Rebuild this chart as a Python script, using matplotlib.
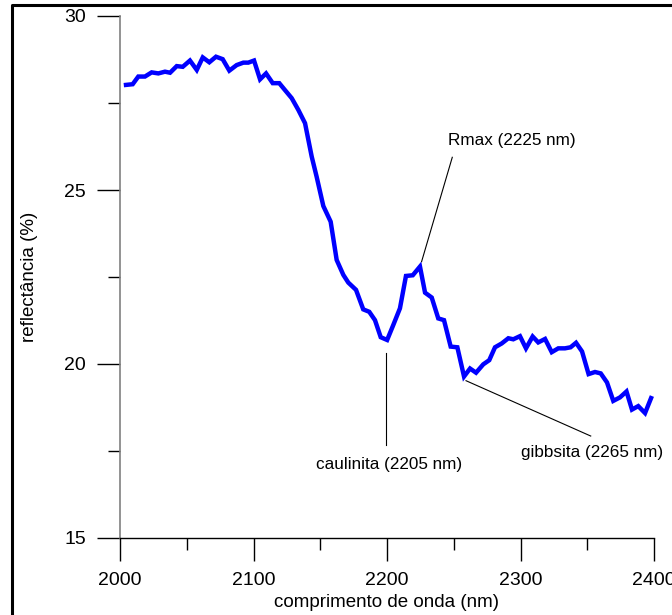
import matplotlib
matplotlib.use("Agg")
import matplotlib.pyplot as plt
from matplotlib.lines import Line2D
from matplotlib.ticker import MultipleLocator

plt.rcParams['font.family'] = ['Liberation Sans', 'DejaVu Sans']

wavelength = [2004.5, 2009.5, 2013.7, 2018.7, 2023.7, 2028.7, 2033.7, 2037.5, 2042.5, 2047.0,
              2052.4, 2057.5, 2062.0, 2066.9, 2071.9, 2076.9, 2081.9, 2087.4, 2092.4, 2096.1,
              2100.4, 2104.9, 2109.4, 2114.4, 2119.3, 2123.6, 2128.6, 2133.6, 2138.6, 2143.6,
              2147.3, 2152.3, 2157.8, 2162.3, 2167.3, 2171.0, 2176.8, 2182.2, 2186.7, 2191.0,
              2195.3, 2200.1, 2204.7, 2209.7, 2214.2, 2219.3, 2224.7, 2228.5, 2233.5, 2238.4,
              2242.7, 2247.7, 2252.7, 2257.7, 2262.2, 2266.7, 2272.1, 2276.6, 2280.9, 2285.9,
              2290.9, 2294.6, 2299.6, 2304.1, 2309.1, 2313.3, 2318.4, 2323.4, 2328.3, 2333.3,
              2337.5, 2341.6, 2346.1, 2351.0, 2355.8, 2360.1, 2364.8, 2369.5, 2374.5, 2379.4,
              2383.5, 2388.2, 2393.3, 2397.8]
reflectance = [28.02, 28.04, 28.26, 28.26, 28.38, 28.35, 28.40, 28.37, 28.56, 28.54,
               28.72, 28.45, 28.81, 28.67, 28.83, 28.76, 28.43, 28.59, 28.66, 28.66,
               28.72, 28.18, 28.35, 28.07, 28.07, 27.87, 27.64, 27.30, 26.92, 25.96,
               25.38, 24.54, 24.09, 22.99, 22.56, 22.34, 22.13, 21.57, 21.50, 21.26,
               20.77, 20.69, 21.12, 21.60, 22.53, 22.55, 22.80, 22.05, 21.91, 21.31,
               21.26, 20.50, 20.48, 19.64, 19.87, 19.75, 19.99, 20.11, 20.48, 20.59,
               20.74, 20.71, 20.80, 20.45, 20.79, 20.62, 20.72, 20.34, 20.45, 20.45,
               20.48, 20.61, 20.36, 19.71, 19.77, 19.73, 19.47, 18.94, 19.04, 19.21,
               18.69, 18.79, 18.59, 19.02]

x_ticks = [2000, 2100, 2200, 2300, 2400]
y_ticks = [15, 20, 25, 30]
x_label = "comprimento de onda (nm)"
y_label = "reflectância (%)"
labels = ["Rmax (2225 nm)", "caulinita (2205 nm)", "gibbsita (2265 nm)"]

W, H = 672, 615
fig = plt.figure(figsize=(W / 100, H / 100), dpi=100)
ax = fig.add_axes([120 / W, 1 - 538 / H, (654 - 120) / W, (538 - 16) / H])

ax.plot(wavelength, reflectance, color='#0000ff', lw=3.2, solid_joinstyle='miter')

ax.set_xlim(2000, 2400)
ax.set_ylim(15, 30)
ax.set_xticks(x_ticks)
ax.set_yticks(y_ticks)
ax.xaxis.set_minor_locator(MultipleLocator(50))
ax.yaxis.set_minor_locator(MultipleLocator(2.5))

for s in ['top', 'right']:
    ax.spines[s].set_visible(False)
ax.spines['left'].set_color('#808080')
ax.spines['left'].set_linewidth(1.2)
ax.spines['bottom'].set_color('black')
ax.spines['bottom'].set_linewidth(1.0)

ax.tick_params(axis='both', which='major', direction='out', length=16.5, width=1.0,
               labelsize=14, pad=8, color='black')
ax.tick_params(axis='both', which='minor', direction='out', length=8.5, width=1.0, color='black')

ax.set_xlabel(x_label, fontsize=13.5, labelpad=3.5)
ax.set_ylabel(y_label, fontsize=13.5, labelpad=19)

# annotations
ax.plot([2225.9, 2248.9], [22.94, 25.94], color='black', lw=0.8)
ax.text(2293.3, 26.42, labels[0], ha='center', va='center', fontsize=12.3)
ax.plot([2199.0, 2199.0], [20.31, 17.67], color='black', lw=0.8)
ax.text(2201.9, 17.10, labels[1], ha='center', va='center', fontsize=12.3)
ax.plot([2259.2, 2352.6], [19.52, 17.93], color='black', lw=0.8)
ax.text(2353.3, 17.47, labels[2], ha='center', va='center', fontsize=12.3)

# figure frame (left and top)
fig.add_artist(Line2D([12 / W, 12 / W, 1.01], [-0.01, 1 - 5 / H, 1 - 5 / H],
                      transform=fig.transFigure, color='black', lw=2.2))

fig.savefig("out.png", dpi=100)
